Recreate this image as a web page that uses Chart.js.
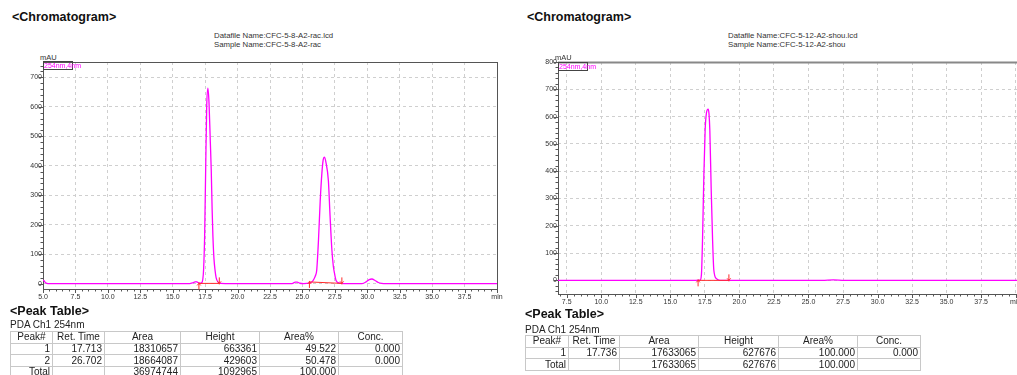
<!DOCTYPE html>
<html>
<head>
<meta charset="utf-8">
<title>Chromatogram</title>
<script src="https://cdn.jsdelivr.net/npm/chart.js"></script>
<style>
  html, body { margin: 0; padding: 0; width: 1017px; height: 375px; overflow: hidden; background: #fff;
               font-family: "Liberation Sans", Arial, sans-serif; color: #222; }
  .abs { position: absolute; white-space: nowrap; }
  .head { font-weight: bold; font-size: 12.5px; line-height: 13px; color: #111; }
  .info { font-size: 7.8px; line-height: 9.3px; color: #333; }
  .unit { font-size: 7.5px; line-height: 8px; color: #333; }
  .chan { font-size: 7px; line-height: 7px; color: #ff00ff; border: 1px solid #444; width: 28px; height: 7px; overflow: visible; }
  .sub { font-size: 10px; line-height: 10px; }
  canvas { position: absolute; }
  table.peaks { position: absolute; border-collapse: collapse; table-layout: fixed; font-size: 10px; }
  table.peaks td { border: 1px solid #c8c8c8; height: 10.7px; padding: 0 2px 0 0; line-height: 10px;
                   text-align: right; overflow: hidden; white-space: nowrap; }
  table.peaks tr.hdr td { text-align: center; padding: 0; }
</style>
</head>
<body>

<div class="abs head" style="left:12px; top:11px;">&lt;Chromatogram&gt;</div>
<div class="abs info" style="left:214px; top:31px;">Datafile Name:CFC-5-8-A2-rac.lcd<br>Sample Name:CFC-5-8-A2-rac</div>
<div class="abs unit" style="left:40px; top:54px;">mAU</div>
<canvas id="racChart" width="512" height="254" style="left:0; top:52px;"></canvas>
<div class="abs chan" style="left:43px; top:61px;">254nm,4nm</div>

<div class="abs head" style="left:527px; top:11px;">&lt;Chromatogram&gt;</div>
<div class="abs info" style="left:728px; top:31px;">Datafile Name:CFC-5-12-A2-shou.lcd<br>Sample Name:CFC-5-12-A2-shou</div>
<canvas id="shouChart" width="530" height="262" style="left:515px; top:52px;"></canvas>
<div class="abs unit" style="left:555px; top:54px;">mAU</div>
<div class="abs chan" style="left:558px; top:62px;">254nm,4nm</div>

<div class="abs head" style="left:10px; top:305px;">&lt;Peak Table&gt;</div>
<div class="abs sub" style="left:10px; top:320px;">PDA Ch1 254nm</div>
<table class="peaks" id="racTable" style="left:10px; top:331px;"></table>

<div class="abs head" style="left:525px; top:308px;">&lt;Peak Table&gt;</div>
<div class="abs sub" style="left:525px; top:325px;">PDA Ch1 254nm</div>
<table class="peaks" id="shouTable" style="left:525px; top:335px;"></table>

<script>
// axis ticks
const racXTicks = [5, 7.5, 10, 12.5, 15, 17.5, 20, 22.5, 25, 27.5, 30, 32.5, 35, 37.5, 40];
const shouXTicks = [7.5, 10, 12.5, 15, 17.5, 20, 22.5, 25, 27.5, 30, 32.5, 35, 37.5, 40];
const racYTicks = [0, 100, 200, 300, 400, 500, 600, 700];
const shouYTicks = [0, 100, 200, 300, 400, 500, 600, 700, 800];

// CFC-5-8-A2-rac trace (min, mAU)
const racTime = [5.0, 5.08, 5.2, 5.4, 6.5, 10, 14, 16.3, 16.6, 16.8, 16.95, 17.1, 17.25, 17.32, 17.38, 17.46, 17.54, 17.62,
  17.713, 17.8, 17.9, 17.97, 18.04, 18.1, 18.18, 18.26, 18.35, 18.5, 18.7, 19.5, 23, 24.2, 24.45, 24.6, 24.8, 25.1,
  25.5, 25.75, 25.9, 26.0, 26.1, 26.24, 26.37, 26.5, 26.6, 26.702, 26.82, 27.0, 27.13, 27.27, 27.38, 27.47, 27.6, 27.8,
  28.2, 29.6, 29.9, 30.15, 30.36, 30.6, 30.85, 31.1, 31.5, 35, 40];
const racSignal = [12, 10, 3, 0.5, 0, 0, 0, 0.5, 4, 7, 4, 1.5, 4, 15, 47, 160, 386, 600,
  663.361, 612, 480, 386, 250, 160, 85, 47, 20, 5, 1, 0, 0, 0.5, 5, 5, 1.5, 0.5,
  2, 7, 17, 27, 45, 150, 280, 375, 420, 429.603, 410, 350, 230, 115, 60, 36, 10, 3,
  0.5, 0.5, 6, 14, 16, 11, 4, 1, 0, 0, 0];
// integration baselines: start/end time and level
const racBaseStart = [17.02, 25.54];
const racBaseStartLevel = [1, 6];
const racBaseEnd = [18.59, 28.04];
const racBaseEndLevel = [1, 1];

// CFC-5-12-A2-shou trace (min, mAU)
const shouTime = [6.87, 10, 15, 16.8, 17.15, 17.25, 17.33, 17.43, 17.52, 17.62, 17.736, 17.8, 17.86, 17.96, 18.06,
  18.15, 18.34, 18.59, 19.5, 26.0, 26.8, 27.6, 35, 40.6];
const shouSignal = [0, 0, 0, 0, 0.5, 20, 147, 390, 550, 615, 627.676, 610, 550, 330, 147,
  37, 6, 0, 0, 0, 2, 0, 0, 0];
const shouBaseStart = [17.01];
const shouBaseStartLevel = [0];
const shouBaseEnd = [19.24];
const shouBaseEndLevel = [0];

// peak tables
const tableHeader = ['Peak#', 'Ret. Time', 'Area', 'Height', 'Area%', 'Conc.'];
const racPeakNo = ['1', '2', 'Total'];
const racRetTime = ['17.713', '26.702', ''];
const racArea = ['18310657', '18664087', '36974744'];
const racHeight = ['663361', '429603', '1092965'];
const racAreaPct = ['49.522', '50.478', '100.000'];
const racConc = ['0.000', '0.000', ''];
const shouPeakNo = ['1', 'Total'];
const shouRetTime = ['17.736', ''];
const shouArea = ['17633065', '17633065'];
const shouHeight = ['627676', '627676'];
const shouAreaPct = ['100.000', '100.000'];
const shouConc = ['0.000', ''];

const FONT = '"Liberation Sans", Arial, sans-serif';
const TRACE = '#ff00ff';
const BASE = '#ff2a2a';

// frame, minor ticks and integration markers
const chromaPlugin = {
  id: 'chroma',
  beforeDatasetsDraw(chart, args, opts) {
    const { ctx, chartArea: a, scales: { x, y } } = chart;
    ctx.save();
    ctx.strokeStyle = '#555';
    ctx.lineWidth = 1;
    // x ticks, every 0.5 min
    for (let v = Math.ceil(x.min * 2) / 2; v <= x.max + 1e-9; v += 0.5) {
      const px = Math.round(x.getPixelForValue(v)) + 0.5;
      const major = Math.abs(v / 2.5 - Math.round(v / 2.5)) < 1e-6;
      ctx.beginPath();
      ctx.moveTo(px, a.bottom);
      ctx.lineTo(px, a.bottom + (major ? 4 : 2.5));
      ctx.stroke();
    }
    // y ticks, every 20 mAU
    for (let v = Math.ceil(y.min / 20) * 20; v <= y.max + 1e-9; v += 20) {
      const py = Math.round(y.getPixelForValue(v)) + 0.5;
      const major = v % 100 === 0;
      ctx.beginPath();
      ctx.moveTo(a.left, py);
      ctx.lineTo(a.left - (major ? 4 : 2.5), py);
      ctx.stroke();
    }
    ctx.strokeRect(Math.round(a.left) + 0.5, Math.round(a.top) + 0.5, Math.round(a.right - a.left), Math.round(a.bottom - a.top));
    if (opts.heavyTop) {
      ctx.strokeStyle = '#888';
      ctx.lineWidth = 2;
      ctx.beginPath();
      ctx.moveTo(a.left, Math.round(a.top) + 0.5);
      ctx.lineTo(a.right, Math.round(a.top) + 0.5);
      ctx.stroke();
    }
    ctx.restore();
  },
  afterDatasetsDraw(chart) {
    const ctx = chart.ctx;
    ctx.save();
    ctx.strokeStyle = BASE;
    ctx.lineWidth = 1;
    chart.data.datasets.forEach((ds, i) => {
      if (!ds.integration) return;
      const pts = chart.getDatasetMeta(i).data;
      const s = pts[0], e = pts[1];
      // start marker hangs below the baseline
      ctx.beginPath();
      ctx.moveTo(s.x, s.y - 1); ctx.lineTo(s.x, s.y + 6);
      ctx.moveTo(s.x - 1.8, s.y + 2); ctx.lineTo(s.x, s.y); ctx.lineTo(s.x + 1.8, s.y + 2);
      ctx.stroke();
      // end marker stands above it
      ctx.beginPath();
      ctx.moveTo(e.x, e.y + 1); ctx.lineTo(e.x, e.y - 6);
      ctx.moveTo(e.x - 1.8, e.y - 2); ctx.lineTo(e.x, e.y); ctx.lineTo(e.x + 1.8, e.y - 2);
      ctx.stroke();
    });
    ctx.restore();
  }
};

function buildChart(id, cfg) {
  const datasets = [{
    data: cfg.time.map((t, i) => ({ x: t, y: cfg.signal[i] })),
    borderColor: TRACE,
    borderWidth: 1.3,
    cubicInterpolationMode: 'monotone',
    pointRadius: 0,
    order: 2
  }];
  cfg.baseStart.forEach((t, i) => {
    datasets.push({
      integration: true,
      data: [{ x: t, y: cfg.baseStartLevel[i] }, { x: cfg.baseEnd[i], y: cfg.baseEndLevel[i] }],
      borderColor: BASE,
      borderWidth: 1,
      pointRadius: 0,
      tension: 0,
      order: 1
    });
  });

  const tickFont = { family: FONT, size: 7 };
  return new Chart(document.getElementById(id), {
    type: 'line',
    data: { datasets },
    plugins: [chromaPlugin],
    options: {
      responsive: false,
      animation: false,
      events: [],
      layout: { padding: cfg.padding },
      plugins: { legend: { display: false }, tooltip: { enabled: false }, chroma: { heavyTop: cfg.heavyTop } },
      scales: {
        x: {
          type: 'linear',
          min: cfg.xMin,
          max: cfg.xMax,
          afterBuildTicks: s => { s.ticks = cfg.xTicks.map(v => ({ value: v })); },
          afterFit: s => { s.height = cfg.xHeight; s.paddingLeft = 0; s.paddingRight = 0; },
          grid: { color: '#cfcfcf', lineWidth: 1, drawTicks: false },
          border: { display: false, dash: [3, 3] },
          ticks: {
            font: tickFont, color: '#333', padding: 4, maxRotation: 0, autoSkip: false,
            callback: v => (v === 40 ? 'min' : v.toFixed(1))
          }
        },
        y: {
          min: cfg.yMin,
          max: cfg.yMax,
          afterBuildTicks: s => { s.ticks = cfg.yTicks.map(v => ({ value: v })); },
          afterFit: s => { s.width = cfg.yWidth; s.paddingTop = 0; s.paddingBottom = 0; },
          grid: { color: '#cfcfcf', lineWidth: 1, drawTicks: false },
          border: { display: false, dash: [3, 3] },
          ticks: { font: tickFont, color: '#333', padding: 1, autoSkip: false, callback: v => String(v) }
        }
      }
    }
  });
}

buildChart('racChart', {
  time: racTime, signal: racSignal,
  baseStart: racBaseStart, baseStartLevel: racBaseStartLevel, baseEnd: racBaseEnd, baseEndLevel: racBaseEndLevel,
  xTicks: racXTicks, yTicks: racYTicks,
  xMin: 5, xMax: 40, yMin: -18, yMax: 752,
  padding: { top: 10, right: 15, bottom: 0, left: 0 },
  yWidth: 43, xHeight: 17, heavyTop: false
});

buildChart('shouChart', {
  time: shouTime, signal: shouSignal,
  baseStart: shouBaseStart, baseStartLevel: shouBaseStartLevel, baseEnd: shouBaseEnd, baseEndLevel: shouBaseEndLevel,
  xTicks: shouXTicks, yTicks: shouYTicks,
  xMin: 6.87, xMax: 40.6, yMin: -50, yMax: 800,
  padding: { top: 10, right: 21, bottom: 0, left: 0 },
  yWidth: 43, xHeight: 20, heavyTop: true
});

// peak tables
function fillTable(id, widths, cols) {
  const table = document.getElementById(id);
  const cg = document.createElement('colgroup');
  widths.forEach(w => {
    const c = document.createElement('col');
    c.style.width = w + 'px';
    cg.appendChild(c);
  });
  table.appendChild(cg);
  const hdr = table.insertRow();
  hdr.className = 'hdr';
  tableHeader.forEach(h => { hdr.insertCell().textContent = h; });
  cols[0].forEach((_, r) => {
    const row = table.insertRow();
    cols.forEach(col => { row.insertCell().textContent = col[r]; });
  });
}

fillTable('racTable', [42, 52, 76, 79, 79, 64],
  [racPeakNo, racRetTime, racArea, racHeight, racAreaPct, racConc]);
fillTable('shouTable', [43, 51, 79, 80, 79, 63],
  [shouPeakNo, shouRetTime, shouArea, shouHeight, shouAreaPct, shouConc]);
</script>
</body>
</html>
